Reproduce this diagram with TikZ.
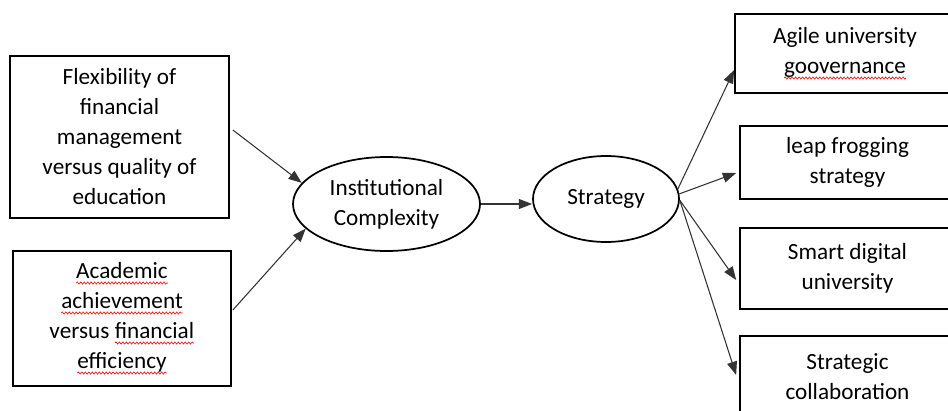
\documentclass[tikz,border=0pt]{standalone}
\usepackage{fontspec}
\setmainfont{Carlito}
\usetikzlibrary{arrows.meta,shapes.geometric,calc,decorations.pathmorphing}

% red wavy underline, as a spell checker marks a word
\newcommand\spellwave[1]{%
  \tikz[baseline=(w.base),x=1pt,y=1pt]{%
    \node[shape=rectangle,draw=none,fill=none,inner sep=0pt,outer sep=0pt,
          minimum width=0pt,minimum height=0pt,anchor=base] (w) at (0,0) {#1};
    \draw[red,line width=0.45pt,decorate,
          decoration={snake,amplitude=0.8pt,segment length=2.6pt}]
      ([yshift=-3.2pt]w.base west) -- ([yshift=-3.2pt]w.base east);}}

\begin{document}
\begin{tikzpicture}[x=0.75pt,y=-0.75pt,
  lbl/.style={font=\fontsize{17.4}{22.5}\selectfont, align=center, text=black},
  box/.style={lbl, draw=black, line width=1.3pt, rectangle, inner sep=0pt},
  oval/.style={lbl, draw=black, line width=1.3pt, ellipse, inner sep=0pt},
  link/.style={draw=black!80, line width=0.8pt, -{Triangle[length=10pt,width=7.5pt]}}
]
\useasboundingbox (0,0) rectangle (948,410);
\clip (0,0) rectangle (948,410);

% left: the two tensions
\node[box, minimum width=164.25pt, minimum height=121.5pt] (b1) at (119.5,137)
  {Flexibility of\\financial\\management\\versus quality of\\education};
\node[box, minimum width=163.5pt, minimum height=101.25pt] (b2) at (122,318.5)
  {\spellwave{Academic}\\\spellwave{achievement}\\versus \spellwave{financial}\\\spellwave{efficiency}};

% middle: complexity and strategy
\node[oval, minimum width=140.25pt, minimum height=70.5pt] (e1) at (386.5,204)
  {Institutional\\Complexity};
\node[oval, minimum width=109.5pt, minimum height=64.5pt] (e2) at (606,199)
  {\raisebox{3pt}{Strategy}};

% right: the four strategies
\node[box, minimum width=165pt, minimum height=59.25pt] (A) at (845,53.5)
  {Agile university\\\spellwave{goovernance}};
\node[box, minimum width=161.25pt, minimum height=54.75pt] (B) at (847.5,162.5)
  {leap frogging\\strategy};
\node[box, minimum width=161.25pt, minimum height=60.75pt] (C) at (847.5,268.5)
  {Smart digital\\university};
\node[box, minimum width=161.25pt, minimum height=61.5pt] (D) at (847.5,377)
  {Strategic\\collaboration};

% connectors
\draw[link] ($(b1.east)+(3,-7)$) -- (e1.166);
\draw[link] ($(b2.east)+(1,-8.5)$) -- (e1.197);
\draw[link] (e1.east) -- (e1.east -| e2.west);
\draw[link] (e2.8) -- ($(A.west)+(0,16.5)$);
\draw[link] (e2.4) -- ($(B.west)+(-3,10.5)$);
\draw[link] (e2.-1) -- ($(C.west)+(-3,11.5)$);
\draw[link] (e2.-1) -- ($(D.west)+(-3,-2)$);
\end{tikzpicture}
\end{document}
